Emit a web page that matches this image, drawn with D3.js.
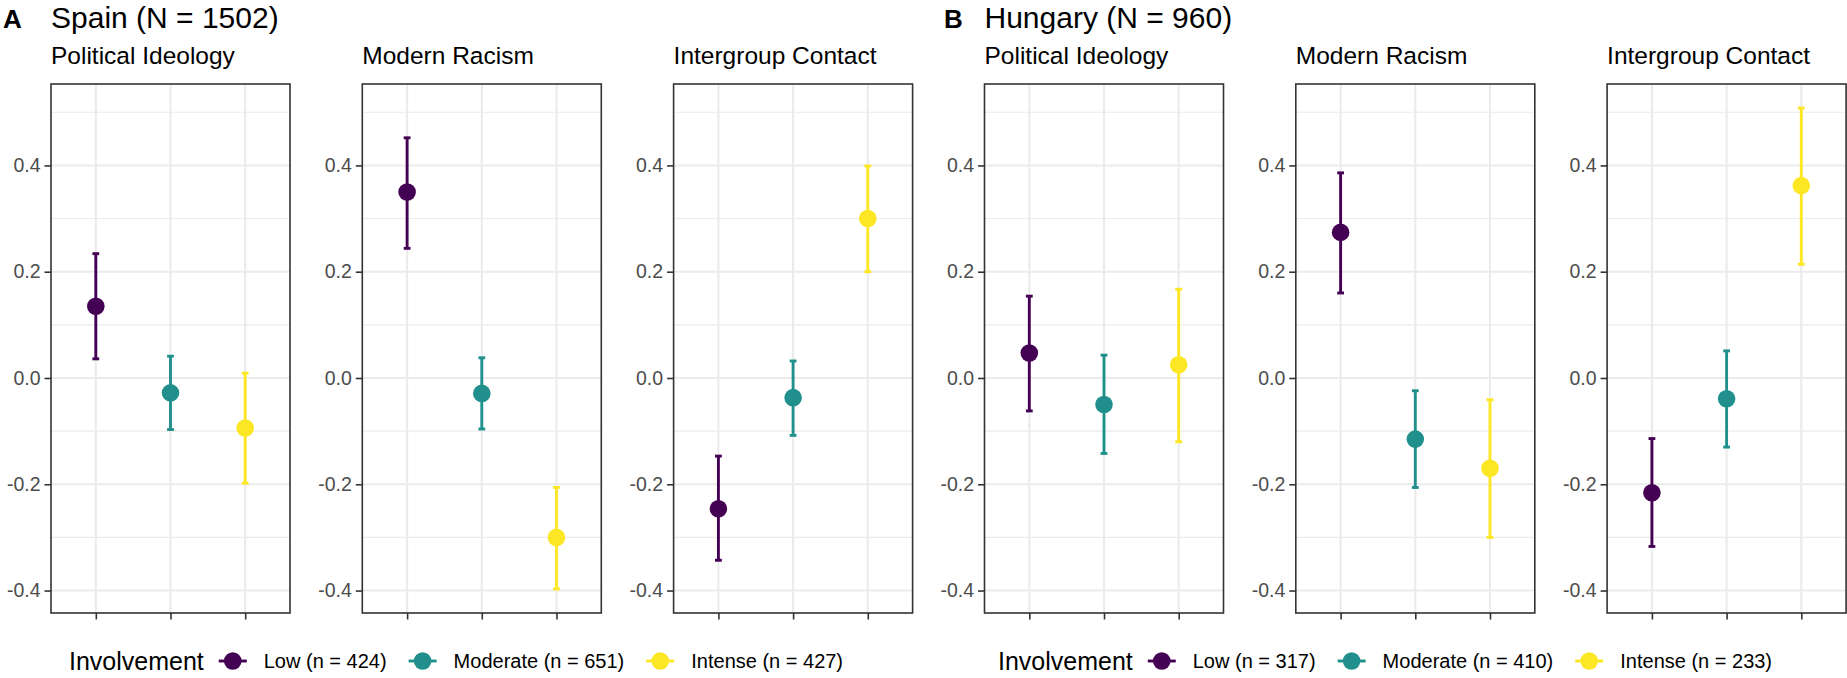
<!DOCTYPE html>
<html>
<head>
<meta charset="utf-8">
<script src="https://cdn.jsdelivr.net/npm/d3@7"></script>
<style>
body { margin: 0; background: #fff; }
text { font-family: "Liberation Sans", Arial, sans-serif; }
</style>
</head>
<body>
<div id="chart"></div>
<script>
var width = 1847,
    height = 678;

var levels = ['Low', 'Moderate', 'Intense'];
var measures = ['Political Ideology', 'Modern Racism', 'Intergroup Contact'];
var colors = ['#440154', '#21908C', '#FDE725'];
var yTicks = [-0.4, -0.2, 0.0, 0.2, 0.4];
var yMinor = [-0.3, -0.1, 0.1, 0.3, 0.5];

// rows = measures, columns = Low / Moderate / Intense
var spainMean  = [[0.135, -0.028, -0.094], [0.350, -0.029, -0.300], [-0.246, -0.037, 0.300]];
var spainLower = [[0.036, -0.097, -0.198], [0.244, -0.096, -0.397], [-0.343, -0.108, 0.200]];
var spainUpper = [[0.234, 0.041, 0.009], [0.452, 0.038, -0.206], [-0.147, 0.032, 0.399]];
var spainN = [424, 651, 427];

var hungaryMean  = [[0.047, -0.050, 0.025], [0.274, -0.115, -0.170], [-0.216, -0.039, 0.362]];
var hungaryLower = [[-0.062, -0.142, -0.120], [0.160, -0.206, -0.300], [-0.317, -0.130, 0.214]];
var hungaryUpper = [[0.154, 0.043, 0.167], [0.386, -0.024, -0.041], [-0.114, 0.051, 0.508]];
var hungaryN = [317, 410, 233];

var countries = [
    { tag: 'A', title: 'Spain (N = 1502)', mean: spainMean, lower: spainLower, upper: spainUpper, n: spainN,
      left: 51, tagX: 3, legendCenter: 456 },
    { tag: 'B', title: 'Hungary (N = 960)', mean: hungaryMean, lower: hungaryLower, upper: hungaryUpper, n: hungaryN,
      left: 984.5, tagX: 944, legendCenter: 1385 }
];

var panelW = 239,
    panelStep = 311.3,
    panelTop = 84,
    panelBottom = 613;

// shared y range, ggplot style 5% expansion
var allVals = d3.merge(countries.map(function(c){ return d3.merge(c.lower.concat(c.upper)); }));
var lo = d3.min(allVals), hi = d3.max(allVals), pad = (hi - lo) * 0.05;

var yScale = d3.scaleLinear()
    .domain([lo - pad, hi + pad])
    .range([panelBottom, panelTop]);

var xScale = d3.scalePoint()
    .domain(levels)
    .range([0, panelW])
    .padding(0.6);

var svg = d3.select('#chart').append('svg')
    .attr('width', width)
    .attr('height', height);

countries.forEach(function(c){
    svg.append('text')
        .attr('x', c.tagX)
        .attr('y', 28)
        .attr('font-size', 26)
        .attr('font-weight', 'bold')
        .text(c.tag);

    svg.append('text')
        .attr('x', c.left)
        .attr('y', 28)
        .attr('font-size', 30)
        .text(c.title);

    measures.forEach(function(m, j){
        var rows = levels.map(function(l, i){
            return { level: l, mean: c.mean[j][i], lower: c.lower[j][i], upper: c.upper[j][i], color: colors[i] };
        });

        var g = svg.append('g')
            .attr('transform', 'translate(' + (c.left + j * panelStep) + ',0)');

        g.append('text')
            .attr('x', 0)
            .attr('y', 63.5)
            .attr('font-size', 24.5)
            .text(m);

        g.selectAll('line.minor')
            .data(yMinor.filter(function(d){ return yScale(d) > panelTop; }))
            .enter().append('line')
            .attr('class', 'minor')
            .attr('x1', 0).attr('x2', panelW)
            .attr('y1', function(d){ return yScale(d); })
            .attr('y2', function(d){ return yScale(d); })
            .attr('stroke', '#EBEBEB')
            .attr('stroke-width', 1.1);

        g.selectAll('line.majorY')
            .data(yTicks)
            .enter().append('line')
            .attr('class', 'majorY')
            .attr('x1', 0).attr('x2', panelW)
            .attr('y1', function(d){ return yScale(d); })
            .attr('y2', function(d){ return yScale(d); })
            .attr('stroke', '#EBEBEB')
            .attr('stroke-width', 2.1);

        g.selectAll('line.majorX')
            .data(levels)
            .enter().append('line')
            .attr('class', 'majorX')
            .attr('x1', function(d){ return xScale(d); })
            .attr('x2', function(d){ return xScale(d); })
            .attr('y1', panelTop).attr('y2', panelBottom)
            .attr('stroke', '#EBEBEB')
            .attr('stroke-width', 2.1);

        // error bars
        var eb = g.selectAll('g.eb')
            .data(rows)
            .enter().append('g')
            .attr('class', 'eb')
            .attr('stroke', function(d){ return d.color; })
            .attr('stroke-width', 2.9);

        eb.append('line')
            .attr('x1', function(d){ return xScale(d.level); })
            .attr('x2', function(d){ return xScale(d.level); })
            .attr('y1', function(d){ return yScale(d.lower); })
            .attr('y2', function(d){ return yScale(d.upper); });

        eb.append('line')
            .attr('x1', function(d){ return xScale(d.level) - 3.4; })
            .attr('x2', function(d){ return xScale(d.level) + 3.4; })
            .attr('y1', function(d){ return yScale(d.upper); })
            .attr('y2', function(d){ return yScale(d.upper); });

        eb.append('line')
            .attr('x1', function(d){ return xScale(d.level) - 3.4; })
            .attr('x2', function(d){ return xScale(d.level) + 3.4; })
            .attr('y1', function(d){ return yScale(d.lower); })
            .attr('y2', function(d){ return yScale(d.lower); });

        g.selectAll('circle')
            .data(rows)
            .enter().append('circle')
            .attr('cx', function(d){ return xScale(d.level); })
            .attr('cy', function(d){ return yScale(d.mean); })
            .attr('r', 8.8)
            .attr('fill', function(d){ return d.color; });

        g.append('rect')
            .attr('x', 0)
            .attr('y', panelTop)
            .attr('width', panelW)
            .attr('height', panelBottom - panelTop)
            .attr('fill', 'none')
            .attr('stroke', '#333333')
            .attr('stroke-width', 1.6);

        var yAxis = g.append('g')
            .call(d3.axisLeft(yScale)
                .tickValues(yTicks)
                .tickSize(6.5)
                .tickPadding(4)
                .tickFormat(function(d){ return d.toFixed(1); }));

        var xAxis = g.append('g')
            .attr('transform', 'translate(0,' + panelBottom + ')')
            .call(d3.axisBottom(xScale).tickSize(6.5).tickFormat(''));

        [yAxis, xAxis].forEach(function(a){
            a.select('.domain').remove();
            a.selectAll('line').attr('stroke', '#333333').attr('stroke-width', 1.6);
            a.selectAll('text')
                .attr('fill', '#4D4D4D')
                .attr('font-size', 19.5)
                .attr('font-family', '"Liberation Sans", Arial, sans-serif');
        });
    });

    // legend
    var lg = svg.append('g');
    var lx = 0;
    var title = lg.append('text')
        .attr('x', 0)
        .attr('y', 661)
        .attr('dy', '0.35em')
        .attr('font-size', 25)
        .text('Involvement');
    lx = title.node().getComputedTextLength() + 29;

    levels.forEach(function(l, i){
        var key = lg.append('g').attr('transform', 'translate(' + lx + ',661)');
        key.append('line')
            .attr('x1', -14).attr('x2', 14)
            .attr('stroke', colors[i])
            .attr('stroke-width', 2.9);
        key.append('circle')
            .attr('r', 8.8)
            .attr('fill', colors[i]);
        var t = lg.append('text')
            .attr('x', lx + 31)
            .attr('y', 661)
            .attr('dy', '0.35em')
            .attr('font-size', 20)
            .text(l + ' (n = ' + c.n[i] + ')');
        lx = lx + 31 + t.node().getComputedTextLength() + 36;
    });
    var lw = lx - 36;
    lg.attr('transform', 'translate(' + (c.legendCenter - lw / 2) + ',0)');
});
</script>
</body>
</html>
